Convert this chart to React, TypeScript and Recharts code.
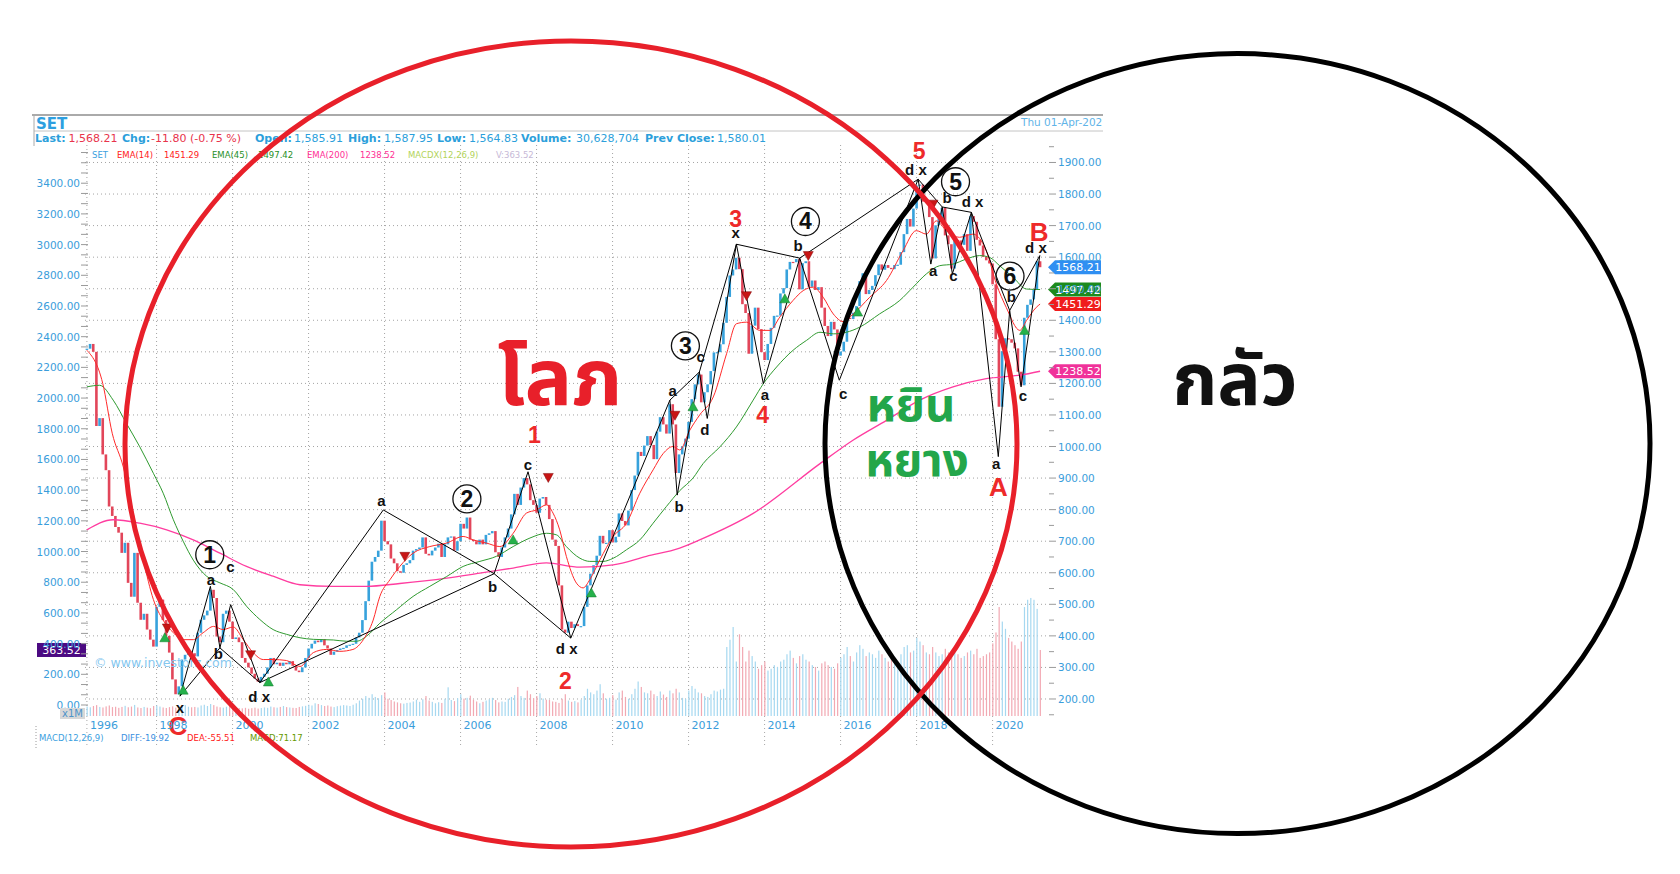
import {
  Bar,
  CartesianGrid,
  Cell,
  ComposedChart,
  Line,
  ReferenceDot,
  ReferenceLine,
  XAxis,
  YAxis,
} from "recharts";

const FONT = "'DejaVu Sans', Verdana, sans-serif";
const ARIAL = "'Liberation Sans', Arial, sans-serif";
const THAI =
  "'Noto Sans Thai', 'Noto Sans Thai Looped', Loma, Garuda, Kinnari, 'Tlwg Typo', 'Noto Sans', sans-serif";

// monthly closes, index 0 = Mar 1996, last = Apr 2021
const closes = [
  // 1996 (Mar-Dec)
  1310, 1325, 1300, 1065, 1090, 975, 925, 810, 780, 745,
  // 1997
  727, 663, 695, 568, 524, 663, 505, 451, 470, 420, 388, 366,
  // 1998
  492, 515, 450, 400, 347, 262, 215, 240, 325, 340, 350, 345,
  // 1999
  335, 410, 451, 465, 480, 546, 520, 398, 380, 470, 480, 445,
  // 2000
  390, 395, 380, 330, 315, 300, 280, 265, 255, 270, 280, 300,
  // 2001
  330, 310, 315, 305, 315, 310, 320, 305, 290, 285, 300, 330,
  // 2002
  360, 375, 385, 380, 390, 370, 360, 340, 350, 355, 360, 362,
  // 2003
  370, 372, 375, 395, 410, 450, 510, 575, 635, 650, 670, 765,
  // 2004
  700, 690, 645, 630, 605, 600, 625, 630, 640, 670, 675, 680,
  // 2005
  712, 660, 655, 670, 680, 692, 650, 690, 712, 715, 670, 700,
  // 2006
  755, 740, 775, 705, 700, 690, 705, 690, 720, 725, 732, 665,
  // 2007
  650, 680, 712, 740, 785, 850, 815, 870, 900, 880, 830, 815,
  // 2008
  790, 835, 840, 815, 770, 705, 685, 560, 420, 410, 445, 425,
  // 2009
  437, 431, 431, 492, 560, 597, 624, 654, 717, 693, 695, 735,
  // 2010
  696, 714, 788, 764, 750, 797, 862, 908, 983, 970, 1003, 1033,
  // 2011
  1005, 960, 1047, 1093, 1070, 1041, 1134, 1070, 916, 975, 1000, 1025,
  // 2012
  1078, 1150, 1197, 1228, 1140, 1172, 1197, 1239, 1298, 1299, 1324, 1392,
  // 2013
  1474, 1542, 1561, 1598, 1562, 1451, 1423, 1294, 1383, 1440, 1372, 1299,
  // 2014
  1274, 1325, 1376, 1414, 1415, 1485, 1502, 1561, 1585, 1584, 1594, 1498,
  // 2015
  1581, 1587, 1506, 1526, 1496, 1505, 1440, 1382, 1350, 1395, 1371, 1288,
  // 2016
  1301, 1332, 1408, 1404, 1424, 1445, 1524, 1549, 1483, 1496, 1509, 1543,
  // 2017
  1577, 1560, 1575, 1566, 1562, 1575, 1576, 1616, 1673, 1721, 1697, 1754,
  // 2018
  1827, 1830, 1776, 1780, 1727, 1596, 1701, 1722, 1756, 1669, 1641, 1564,
  // 2019
  1654, 1653, 1639, 1673, 1620, 1730, 1712, 1655, 1637, 1601, 1590, 1580,
  // 2020
  1514, 1340, 1126, 1302, 1343, 1340, 1329, 1311, 1237, 1194, 1408, 1449,
  // 2021 (Jan-Apr)
  1466, 1497, 1587, 1568.21,
];

// monthly volume (x1M), same months as closes
const volumes = [
  52, 48, 55, 60, 50, 47, 53, 58, 49, 51,
  45, 50, 56, 48, 52, 61, 47, 44, 50, 46, 43, 55,
  58, 52, 47, 44, 49, 53, 46, 42, 55, 60, 51, 48,
  50, 47, 58, 62, 55, 66, 60, 52, 48, 46, 51, 57,
  53, 47, 44, 42, 45, 40, 43, 46, 41, 44, 47, 45,
  52, 48, 46, 50, 55, 49, 47, 45, 44, 50, 53, 56,
  62, 58, 70, 66, 60, 55, 58, 52, 49, 54, 57, 60,
  58, 55, 62, 70, 85, 95, 110, 100, 120, 105, 98, 115,
  130, 95, 88, 80, 75, 70, 68, 72, 74, 80, 90, 78,
  92, 110, 85, 78, 70, 76, 72, 95, 158, 88, 82, 98,
  120, 96, 100, 112, 90, 80, 70, 78, 85, 92, 100, 88,
  75, 80, 78, 95, 105, 115, 160, 110, 100, 140, 120, 98,
  110, 125, 96, 90, 88, 80, 78, 72, 95, 120, 85, 78,
  82, 75, 90, 110, 150, 130, 120, 140, 175, 125, 95, 100,
  115, 90, 130, 140, 105, 95, 120, 150, 190, 160, 130, 125,
  140, 120, 110, 135, 118, 105, 140, 125, 150, 130, 100, 95,
  140, 165, 150, 130, 125, 110, 105, 120, 140, 135, 145, 150,
  380, 420, 490, 300, 450, 380, 300, 360, 330, 300, 260, 280,
  300, 250, 260, 280, 270, 300, 310, 340, 360, 320, 290, 330,
  340, 310, 300, 280, 270, 250, 290, 300, 280, 270, 260, 290,
  320, 340, 380, 330, 300, 350, 390, 370, 330, 350, 340, 320,
  360, 340, 320, 300, 330, 310, 290, 340, 380, 390, 350, 360,
  430, 410, 390, 350, 340, 380, 350, 330, 340, 370, 350, 330,
  350, 340, 320, 330, 350, 360, 340, 370, 320, 330, 340, 350,
  400, 460, 600, 520, 480, 430, 410, 390, 370, 410, 600, 640,
  650, 640, 590, 363.52,
];

const yearTicks = [0, 22, 46, 70, 94, 118, 142, 166, 190, 214, 238, 262, 286];
const yearLabels = ["1996", "1998", "2000", "2002", "2004", "2006", "2008", "2010", "2012", "2014", "2016", "2018", "2020"];
const priceGrid = [200, 300, 400, 500, 600, 700, 800, 900, 1000, 1100, 1200, 1300, 1400, 1500, 1600, 1700, 1800, 1900];

// moving averages: [month index, value]
const ema14: [number, number][] = [
  [0, 1305], [5, 1200], [8, 1042], [11.5, 935], [14.6, 789], [17.8, 641], [21, 515], [24, 451],
  [27.3, 410], [30.4, 388], [33.6, 388], [36.7, 410], [40, 430], [43, 420], [46.2, 428], [49.4, 388],
  [52.5, 347], [55.7, 325], [58.8, 325], [63, 322], [67.3, 303], [71.5, 347], [75.7, 357], [79.9, 351],
  [84, 357], [87.3, 388], [90.4, 450], [92.5, 525], [95.7, 578], [98.8, 620], [103, 662], [108.3, 683],
  [113.6, 694], [118.8, 715], [122, 704], [126.2, 694], [130.4, 683], [134.6, 725], [138.8, 789], [142, 799],
  [145.1, 815], [147.2, 789], [149.3, 736], [151.4, 652], [154.6, 567], [156.7, 552], [158.8, 578], [162, 641],
  [166.2, 715], [170.4, 757], [174.6, 852], [178.8, 926], [182, 978], [185.1, 1000], [187.2, 989], [190.4, 1052],
  [193.5, 1100], [197.8, 1157], [202, 1294], [205.1, 1389], [208.3, 1394], [212.5, 1368], [215.7, 1368],
  [218.8, 1410], [223, 1463], [226.2, 1494], [229.4, 1505], [232.5, 1473], [235.7, 1420], [238.8, 1396],
  [242, 1420], [247.2, 1473], [252.5, 1526], [257.7, 1620], [261.9, 1684], [265.1, 1673], [268.2, 1715],
  [271.4, 1684], [275.6, 1663], [279.8, 1673], [284, 1620], [287.2, 1515], [290.3, 1441], [294.6, 1368],
  [296.7, 1399], [299.8, 1441], [301, 1451.29],
];
const ema45: [number, number][] = [
  [0, 1189], [4, 1194], [8.3, 1147], [12.5, 1073], [16.7, 999], [21, 915], [24.1, 852], [27.3, 768],
  [30.4, 700], [33.6, 640], [37.8, 589], [42, 568], [46.2, 547], [50.4, 494], [54.6, 452], [58.8, 420],
  [63, 405], [67.3, 394], [71.5, 389], [77.8, 387], [82, 383], [85.2, 383], [88.3, 399], [92.5, 440],
  [97.8, 483], [103, 525], [108.3, 557], [113.6, 588], [118.8, 620], [124.1, 636], [129.3, 652], [134.6, 683],
  [139.9, 710], [145.1, 725], [148.3, 720], [151.4, 683], [155.7, 646], [158.8, 636], [163, 636], [166.2, 646],
  [170.4, 673], [174.6, 704], [178.8, 757], [183, 810], [187.2, 860], [191.4, 900], [194.6, 946], [199.9, 999],
  [205.1, 1062], [210.4, 1147], [213.6, 1199], [217.8, 1252], [223, 1305], [227.2, 1336], [231.5, 1362],
  [235.7, 1357], [239.8, 1362], [244, 1378], [250.3, 1420], [256.7, 1463], [260.9, 1505], [265.1, 1547],
  [269.3, 1573], [273.5, 1578], [277.7, 1594], [281.9, 1605], [285.1, 1599], [288.2, 1573], [292.5, 1536],
  [296.7, 1499], [301, 1497.42],
];
const ema200: [number, number][] = [
  [0, 736], [8.3, 768], [16.7, 757], [25.2, 736], [33.6, 704], [42, 662], [50.4, 620], [58.8, 589],
  [67.3, 562], [77.8, 557], [88.3, 557], [98.8, 566], [113.6, 583], [124.1, 599], [134.6, 615], [145.1, 631],
  [155.7, 618], [166.2, 625], [176.7, 652], [187.2, 678], [193.5, 704], [210.4, 788], [231.4, 945],
  [241.9, 1020], [252.5, 1083], [263, 1147], [273.5, 1189], [284, 1215], [294.6, 1226], [301, 1238.52],
];

// wave pivots [month index, price]
const pivots: Record<string, [number, number]> = {
  x1: [29.4, 209], a1: [39, 557], b1: [42, 362], c1: [45.4, 499], dx1: [54.6, 252],
  a2: [93.6, 799], b2: [128.6, 597], c2: [139.3, 920], dx2: [152.8, 393],
  a3: [184.1, 1147], b3: [186.4, 846], c3: [193.4, 1236], d3: [195.9, 1089], x3: [205.1, 1641],
  a4: [213.6, 1199], b4: [225.1, 1597], c4: [237.6, 1210],
  dx5: [262.5, 1847], a5: [266.5, 1578], b5: [270.1, 1759], c5: [273.3, 1547], dx5b: [279.3, 1742],
  a6: [287.8, 968], b6: [291.4, 1431], c6: [295, 1189], dx6: [300.9, 1605],
};
const waveLinks: [string, string][] = [
  ["x1", "a1"], ["a1", "b1"], ["b1", "c1"], ["c1", "dx1"], ["x1", "b1"], ["b1", "dx1"],
  ["dx1", "a2"], ["dx1", "b2"], ["a2", "b2"], ["b2", "c2"], ["c2", "dx2"], ["b2", "dx2"],
  ["dx2", "a3"], ["a3", "b3"], ["b3", "c3"], ["a3", "c3"], ["c3", "d3"], ["d3", "x3"], ["c3", "x3"],
  ["x3", "a4"], ["a4", "b4"], ["x3", "b4"], ["b4", "c4"], ["b4", "dx5"], ["c4", "dx5"],
  ["dx5", "a5"], ["a5", "b5"], ["b5", "c5"], ["c5", "dx5b"], ["dx5", "b5"], ["b5", "dx5b"],
  ["dx5b", "a6"], ["dx5b", "b6"], ["a6", "b6"], ["b6", "c6"], ["c6", "dx6"], ["b6", "dx6"],
];
const waveLetters: [string, number, number][] = [
  ["x", 29.4, 172], ["a", 39.2, 576], ["b", 41.5, 342], ["c", 45.3, 617], ["d x", 54.4, 206],
  ["a", 93, 827], ["b", 128.1, 555], ["c", 139.3, 942], ["d x", 151.5, 358],
  ["a", 185, 1177], ["b", 187, 807], ["c", 193.8, 1285], ["d", 195.1, 1051], ["x", 204.9, 1676],
  ["a", 214.1, 1163], ["b", 224.6, 1635], ["c", 238.8, 1166],
  ["d x", 261.8, 1876], ["a", 267.2, 1557], ["b", 271.6, 1788], ["c", 273.6, 1540], ["d x", 279.7, 1774],
  ["a", 287.1, 946], ["b", 291.9, 1475], ["c", 295.6, 1160], ["d x", 299.7, 1628],
];
const waveNumbers: [string, number, number][] = [
  ["1", 141.3, 1040], ["2", 151.1, 260], ["3", 204.9, 1723], ["4", 213.4, 1102], ["5", 262.8, 1940],
  ["A", 287.8, 871], ["B", 300.7, 1679], ["C", 28.7, 114],
];
const circledWaves: [string, number, number][] = [
  ["1", 38.8, 657], ["2", 120, 834], ["3", 189, 1319], ["4", 226.9, 1713], ["5", 274.3, 1839], ["6", 291.5, 1540],
];
const buySignals: [number, number][] = [
  [24.6, 394], [30.4, 228], [57.3, 254], [134.6, 704], [159.3, 536], [191.4, 1126], [220.4, 1468], [243.4, 1426], [296.1, 1368],
];
const sellSignals: [number, number][] = [
  [25.4, 425], [51.7, 340], [100.4, 652], [145.7, 902], [185.7, 1099], [208.3, 1478], [227.8, 1605], [267.2, 1768],
];
const priceTags = [1568.21, 1497.42, 1451.29, 1238.52];
const lastVolume = 363.52;

const X_DOMAIN: [number, number] = [-0.6, 303.5];
const UP = "#37a2dc";
const DOWN = "#e2465a";
const VOL_UP = "#a6d8f0";
const VOL_DOWN = "#f2a8b2";
const AXIS_TEXT = "#3a9ddb";
const TAG_COLORS = ["#2f8ff2", "#1c8a1c", "#f01c1c", "#f0329a"];

const leftTicks = Array.from({ length: 55 }, (_, k) => (k * 200) / 3);
const rightTicks = Array.from({ length: 37 }, (_, k) => 150 + k * 50);

function YearTick(props: any) {
  const { x, y, payload } = props;
  const label = yearLabels[yearTicks.indexOf(payload.value)];
  return (
    <g>
      <line x1={x} x2={x} y1={y} y2={y + 30} stroke="#a8a8a8" strokeDasharray="1 3" />
      <text x={x + 3} y={y + 13} fontSize={11} fontFamily={FONT} fill={AXIS_TEXT}>
        {label}
      </text>
    </g>
  );
}

function LeftTick(props: any) {
  const { x, y, payload } = props;
  const v = payload.value;
  const k = Math.round((v * 3) / 200);
  const major = k % 3 === 0 && v <= 3400;
  return (
    <g>
      <line x1={x - 4} x2={x + 3} y1={y} y2={y} stroke="#9a9a9a" />
      {major ? (
        <text x={x - 5} y={y + 4} textAnchor="end" fontSize={10.5} fontFamily={FONT} fill={AXIS_TEXT}>
          {v.toFixed(2)}
        </text>
      ) : null}
    </g>
  );
}

function RightTick(props: any) {
  const { x, y, payload } = props;
  const v = payload.value;
  const major = v % 100 === 0 && v >= 200 && v <= 1900;
  return (
    <g>
      <line x1={x + 1} x2={x + (major ? 8 : 6)} y1={y} y2={y} stroke="#9a9a9a" />
      {major ? (
        <text x={x + 10} y={y + 4} fontSize={10.5} fontFamily={FONT} fill={AXIS_TEXT}>
          {v.toFixed(2)}
        </text>
      ) : null}
    </g>
  );
}

// candle body, drawn at a fixed width around the band centre
function CandleBody(props: any) {
  const { x, y, width, height, payload } = props;
  if (x == null || y == null) return null;
  const cx = x + width / 2;
  return (
    <rect
      x={cx - 1.3}
      y={y}
      width={2.6}
      height={Math.max(Math.abs(height), 1.2)}
      fill={payload.up ? UP : DOWN}
    />
  );
}

function VolumeBar(props: any) {
  const { x, y, width, height, payload } = props;
  if (x == null || y == null) return null;
  const cx = x + width / 2;
  return <rect x={cx - 0.6} y={y} width={1.2} height={Math.max(height, 0)} fill={payload.up ? VOL_UP : VOL_DOWN} />;
}

export default function App() {
  const rows = closes.map((c, k) => {
    const open = k === 0 ? c : closes[k - 1];
    return { i: k, body: [Math.min(open, c), Math.max(open, c)], up: c >= open, vol: volumes[k] };
  });
  const toPoints = (arr: [number, number][]) => arr.map(([i, v]) => ({ i, v }));

  return (
    <div style={{ position: "absolute", left: 0, top: 0, width: 1680, height: 874, background: "#fff", overflow: "hidden" }}>
      <ComposedChart width={1680} height={874} data={rows} margin={{ top: 145, right: 572, bottom: 128, left: 35 }}>
        <CartesianGrid
          yAxisId="right"
          horizontalValues={priceGrid}
          verticalValues={yearTicks}
          stroke="#a4a4a4"
          strokeDasharray="1 3"
        />
        <XAxis
          type="number"
          dataKey="i"
          domain={X_DOMAIN}
          allowDataOverflow
          ticks={yearTicks}
          interval={0}
          tick={<YearTick />}
          tickLine={false}
          axisLine={false}
          tickSize={0}
          tickMargin={0}
          height={30}
        />
        <XAxis xAxisId="vol" type="number" dataKey="i" domain={X_DOMAIN} allowDataOverflow hide />
        <YAxis
          yAxisId="left"
          orientation="left"
          width={50}
          domain={[-71.7, 3649]}
          allowDataOverflow
          ticks={leftTicks}
          interval={0}
          tick={<LeftTick />}
          tickLine={false}
          axisLine={false}
          tickSize={0}
          tickMargin={0}
        />
        <YAxis
          yAxisId="right"
          orientation="right"
          width={60}
          domain={[146.1, 1955.4]}
          allowDataOverflow
          ticks={rightTicks}
          interval={0}
          tick={<RightTick />}
          tickLine={false}
          axisLine={false}
          tickSize={0}
          tickMargin={0}
        />
        <YAxis yAxisId="vol" hide domain={[0, 3144]} allowDataOverflow />

        <Bar xAxisId="vol" yAxisId="vol" dataKey="vol" shape={<VolumeBar />} isAnimationActive={false} />
        <Bar yAxisId="right" dataKey="body" shape={<CandleBody />} isAnimationActive={false} />

        <Line data={toPoints(ema200)} dataKey="v" yAxisId="right" type="monotone" stroke="#ff3da0" strokeWidth={1.3} dot={false} isAnimationActive={false} />
        <Line data={toPoints(ema45)} dataKey="v" yAxisId="right" type="monotone" stroke="#2f9a2f" strokeWidth={1} dot={false} isAnimationActive={false} />
        <Line data={toPoints(ema14)} dataKey="v" yAxisId="right" type="monotone" stroke="#ff2a2a" strokeWidth={1} dot={false} isAnimationActive={false} />

        {waveLinks.map(([p, q], k) => (
          <ReferenceLine
            key={"l" + k}
            yAxisId="right"
            ifOverflow="visible"
            segment={[
              { x: pivots[p][0], y: pivots[p][1] },
              { x: pivots[q][0], y: pivots[q][1] },
            ]}
            stroke="#000"
            strokeWidth={1}
          />
        ))}

        {buySignals.map(([i, v], k) => (
          <ReferenceDot
            key={"buy" + k}
            x={i}
            y={v}
            yAxisId="right"
            ifOverflow="visible"
            r={0}
            shape={(p: any) => (
              <path d={`M${p.cx} ${p.cy - 5} L${p.cx + 5} ${p.cy + 4} L${p.cx - 5} ${p.cy + 4} Z`} fill="#25b14a" stroke="#157a2c" strokeWidth={0.5} />
            )}
          />
        ))}
        {sellSignals.map(([i, v], k) => (
          <ReferenceDot
            key={"sell" + k}
            x={i}
            y={v}
            yAxisId="right"
            ifOverflow="visible"
            r={0}
            shape={(p: any) => (
              <path d={`M${p.cx - 5} ${p.cy - 4} L${p.cx + 5} ${p.cy - 4} L${p.cx} ${p.cy + 5} Z`} fill="#c81515" stroke="#800b0b" strokeWidth={0.5} />
            )}
          />
        ))}

        {waveLetters.map(([t, i, v], k) => (
          <ReferenceDot
            key={"wl" + k}
            x={i}
            y={v}
            yAxisId="right"
            ifOverflow="visible"
            r={0}
            shape={(p: any) => (
              <text x={p.cx} y={p.cy + 5} textAnchor="middle" fontSize={15} fontWeight={700} fontFamily={ARIAL} fill="#111">
                {t}
              </text>
            )}
          />
        ))}
        {waveNumbers.map(([t, i, v], k) => (
          <ReferenceDot
            key={"wn" + k}
            x={i}
            y={v}
            yAxisId="right"
            ifOverflow="visible"
            r={0}
            shape={(p: any) => (
              <text x={p.cx} y={p.cy + 9} textAnchor="middle" fontSize={/[A-C]/.test(t) ? 26 : 23} fontWeight={700} fontFamily={ARIAL} fill="#ee2a2a">
                {t}
              </text>
            )}
          />
        ))}
        {circledWaves.map(([t, i, v], k) => (
          <ReferenceDot
            key={"cw" + k}
            x={i}
            y={v}
            yAxisId="right"
            ifOverflow="visible"
            r={0}
            shape={(p: any) => (
              <g>
                <circle cx={p.cx} cy={p.cy} r={14} fill="none" stroke="#111" strokeWidth={1.3} />
                <text x={p.cx} y={p.cy + 8} textAnchor="middle" fontSize={23} fontWeight={700} fontFamily={ARIAL} fill="#111">
                  {t}
                </text>
              </g>
            )}
          />
        ))}

        {priceTags.map((v, k) => (
          <ReferenceDot
            key={"tag" + k}
            x={X_DOMAIN[1]}
            y={v}
            yAxisId="right"
            ifOverflow="visible"
            r={0}
            shape={(p: any) => (
              <g>
                <path
                  d={`M${p.cx} ${p.cy} L${p.cx + 7} ${p.cy - 7} H${p.cx + 53} V${p.cy + 7} H${p.cx + 7} Z`}
                  fill={TAG_COLORS[k]}
                />
                <text x={p.cx + 30} y={p.cy + 4} textAnchor="middle" fontSize={11} fontFamily={FONT} fill="#fff">
                  {v.toFixed(2)}
                </text>
              </g>
            )}
          />
        ))}
        <ReferenceDot
          x={X_DOMAIN[0]}
          y={lastVolume}
          xAxisId="vol"
          yAxisId="vol"
          ifOverflow="visible"
          r={0}
          shape={(p: any) => (
            <g>
              <rect x={p.cx - 48} y={p.cy - 7} width={49} height={14} fill="#4b0a82" />
              <text x={p.cx - 23.5} y={p.cy + 4} textAnchor="middle" fontSize={11} fontFamily={FONT} fill="#fff">
                {lastVolume.toFixed(2)}
              </text>
            </g>
          )}
        />
      </ComposedChart>

      <svg width={1680} height={874} style={{ position: "absolute", left: 0, top: 0, pointerEvents: "none" }}>
        <defs>
          <clipPath id="hdr">
            <rect x={0} y={0} width={1103} height={874} />
          </clipPath>
        </defs>
        <g clipPath="url(#hdr)">
          <line x1={32} x2={1103} y1={115} y2={115} stroke="#8e8e8e" strokeWidth={1.5} />
          <line x1={34} x2={1103} y1={131} y2={131} stroke="#c4c4c4" strokeWidth={1} />
          <line x1={34} x2={34} y1={115} y2={146} stroke="#aaa" strokeWidth={1} />
          <text x={36} y={129} fontSize={15} fontWeight={700} fontFamily={FONT} fill="#2e9fe0">
            SET
          </text>
          <text x={1021} y={126} fontSize={10.5} fontFamily={FONT} fill="#5fb4e8">
            Thu 01-Apr-2021
          </text>
          <text y={142} fontSize={11} fontFamily={FONT}>
            <tspan x={35} fontWeight={700} fill="#2c9fdb">Last:</tspan>
            <tspan x={68.6} fill="#e8344c">1,568.21</tspan>
            <tspan x={122} fontWeight={700} fill="#2c9fdb">Chg:</tspan>
            <tspan x={151} fill="#e8344c">-11.80 (-0.75 %)</tspan>
            <tspan x={255} fontWeight={700} fill="#2c9fdb">Open:</tspan>
            <tspan x={294} fill="#2c9fdb">1,585.91</tspan>
            <tspan x={348} fontWeight={700} fill="#2c9fdb">High:</tspan>
            <tspan x={384} fill="#2c9fdb">1,587.95</tspan>
            <tspan x={437} fontWeight={700} fill="#2c9fdb">Low:</tspan>
            <tspan x={469} fill="#2c9fdb">1,564.83</tspan>
            <tspan x={521} fontWeight={700} fill="#2c9fdb">Volume:</tspan>
            <tspan x={576} fill="#2c9fdb">30,628,704</tspan>
            <tspan x={645} fontWeight={700} fill="#2c9fdb">Prev Close:</tspan>
            <tspan x={717} fill="#2c9fdb">1,580.01</tspan>
          </text>
          <text y={158} fontSize={8.5} fontFamily={FONT}>
            <tspan x={92} fill="#3aa0e0">SET</tspan>
            <tspan x={117} fill="#ff2020">EMA(14)</tspan>
            <tspan x={164} fill="#ff2020">1451.29</tspan>
            <tspan x={212} fill="#1f8f1f">EMA(45)</tspan>
            <tspan x={258} fill="#1f8f1f">1497.42</tspan>
            <tspan x={307} fill="#ff2f95">EMA(200)</tspan>
            <tspan x={360} fill="#ff2f95">1238.52</tspan>
            <tspan x={408} fill="#b2d35a">MACDX(12,26,9)</tspan>
            <tspan x={496} fill="#c6b8d6">V:363.52</tspan>
          </text>
        </g>

        <text x={94} y={667} fontSize={12.5} fontFamily={FONT} fill="#86c7ef">
          © www.investorz.com
        </text>
        <rect x={60} y={708} width={25} height={11} fill="#d8d8d8" />
        <text x={62} y={717} fontSize={10} fontFamily={FONT} fill="#4d93c9">
          x1M
        </text>
        <line x1={36} x2={36} y1={726} y2={748} stroke="#9a9a9a" strokeDasharray="1 2" />
        <text y={741} fontSize={8.5} fontFamily={FONT}>
          <tspan x={39} fill="#3aa0e0">MACD(12,26,9)</tspan>
          <tspan x={121} fill="#3a8fe0">DIFF:-19.92</tspan>
          <tspan x={187} fill="#ff2020">DEA:-55.51</tspan>
          <tspan x={250} fill="#669a00">MACD:71.17</tspan>
        </text>

        <ellipse cx={1237.5} cy={443.6} rx={412.5} ry={390} fill="none" stroke="#000" strokeWidth={5} />
        <ellipse cx={571} cy={444} rx={446} ry={403} fill="none" stroke="#e8202a" strokeWidth={5} />

        <text x={560} y={405} textAnchor="middle" fontSize={79} fontWeight={700} fontFamily={THAI} fill="#e8202a">
          โลภ
        </text>
        <text x={1235} y={405} textAnchor="middle" fontSize={72} fontWeight={700} fontFamily={THAI} fill="#111">
          กลัว
        </text>
        <text x={911} y={421} textAnchor="middle" fontSize={47} fontWeight={700} fontFamily={THAI} fill="#23a64a">
          หยิน
        </text>
        <text x={917} y={476} textAnchor="middle" fontSize={46} fontWeight={700} fontFamily={THAI} fill="#23a64a">
          หยาง
        </text>
      </svg>
    </div>
  );
}
